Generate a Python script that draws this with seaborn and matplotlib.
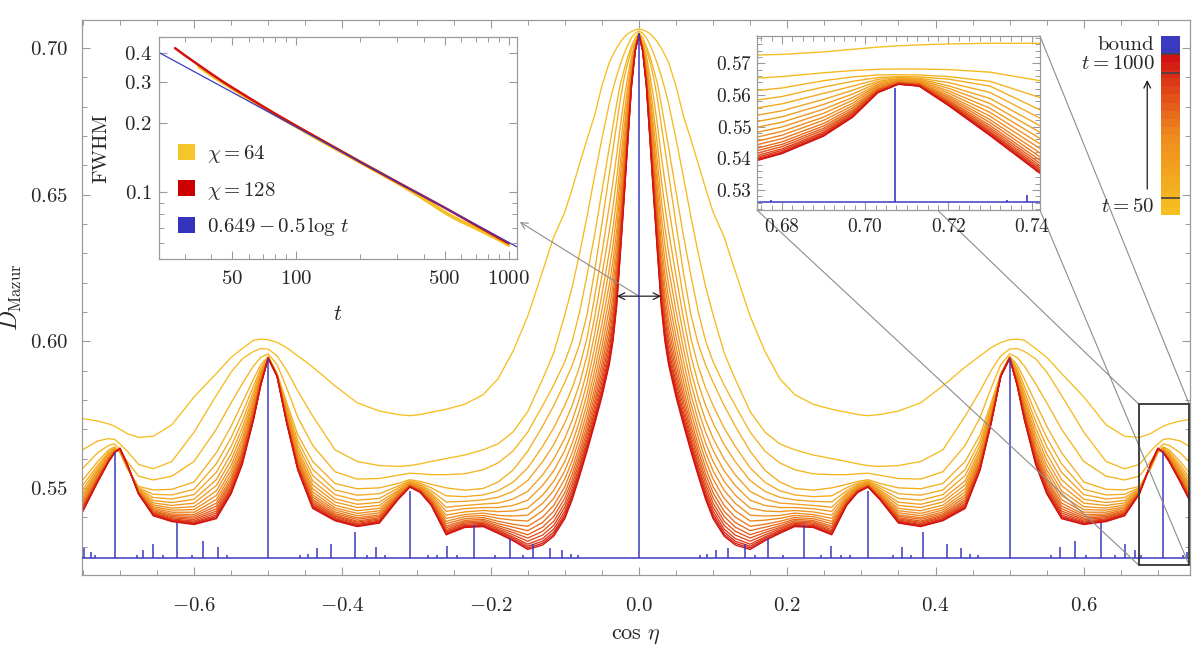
import numpy as np
import pandas as pd
import seaborn as sns
import matplotlib.pyplot as plt
import matplotlib.transforms as mtransforms
from matplotlib.colors import LinearSegmentedColormap, to_hex
from matplotlib.patches import ConnectionPatch, Rectangle, Patch
from matplotlib.ticker import MultipleLocator, FixedLocator, NullFormatter, FuncFormatter

# ---------------------------------------------------------------------------
# D_Mazur(cos eta) for t = 50 ... 1000 (units of 1e-4).
# The curves are symmetric in cos eta, only cos eta >= 0 is stored.
t_values = [50, 100, 150, 200, 250, 300, 350, 400, 450, 500,
            550, 600, 650, 700, 750, 800, 850, 900, 950, 1000]

x_half = [0.0, 0.005, 0.01, 0.015, 0.02, 0.025, 0.03, 0.035, 0.04, 0.05,
          0.06, 0.07, 0.08, 0.09, 0.10, 0.115, 0.13, 0.15, 0.17, 0.19,
          0.21, 0.235, 0.26, 0.28, 0.295, 0.309, 0.325, 0.35, 0.38, 0.41,
          0.44, 0.46, 0.475, 0.488, 0.50, 0.51, 0.52, 0.535, 0.55, 0.57,
          0.60, 0.63, 0.655, 0.675, 0.69, 0.70, 0.707, 0.715, 0.73, 0.75]

D_t50 = [7064, 7062, 7056, 7048, 7036, 7020, 7000, 6976, 6950, 6870,
         6768, 6688, 6605, 6520, 6440, 6355, 6238, 6085, 5965, 5872,
         5818, 5785, 5768, 5758, 5750, 5746, 5750, 5762, 5790, 5848,
         5912, 5950, 5978, 5996, 6005, 6007, 6003, 5975, 5945, 5890,
         5810, 5715, 5676, 5672, 5685, 5700, 5710, 5718, 5728, 5736]
D_t100 = [7058, 7050, 7035, 7010, 6980, 6945, 6905, 6860, 6810, 6690,
          6560, 6425, 6300, 6185, 6090, 5960, 5870, 5760, 5690, 5650,
          5630, 5612, 5600, 5590, 5582, 5576, 5573, 5576, 5590, 5630,
          5745, 5830, 5900, 5950, 5973, 5975, 5965, 5940, 5895, 5815,
          5690, 5590, 5565, 5580, 5625, 5650, 5665, 5668, 5660, 5630]
D_t150 = [7052, 7035, 7005, 6970, 6925, 6878, 6810, 6735, 6660, 6510,
          6360, 6225, 6100, 6000, 5930, 5850, 5780, 5690, 5625, 5585,
          5562, 5548, 5545, 5545, 5548, 5550, 5543, 5532, 5530, 5555,
          5645, 5740, 5840, 5920, 5957, 5945, 5915, 5855, 5790, 5700,
          5590, 5540, 5527, 5540, 5590, 5630, 5650, 5645, 5620, 5567]
D_t200 = [7050, 7022, 6995, 6950, 6897, 6825, 6740, 6655, 6570, 6400,
          6235, 6090, 5990, 5918, 5860, 5780, 5710, 5625, 5560, 5520,
          5498, 5492, 5500, 5512, 5522, 5528, 5515, 5500, 5497, 5515,
          5590, 5680, 5790, 5890, 5948, 5920, 5870, 5790, 5710, 5620,
          5520, 5495, 5493, 5505, 5565, 5620, 5640, 5630, 5590, 5527]
D_t250 = [7049, 7017, 6974, 6904, 6827, 6736, 6635, 6544, 6460, 6300,
          6147, 6011, 5914, 5840, 5781, 5704, 5641, 5568, 5519, 5490,
          5476, 5470, 5473, 5500, 5516, 5524, 5506, 5480, 5475, 5493,
          5563, 5660, 5778, 5888, 5947, 5908, 5846, 5754, 5671, 5582,
          5495, 5476, 5478, 5501, 5568, 5622, 5637, 5623, 5578, 5509]
D_t300 = [7048, 7012, 6958, 6869, 6773, 6668, 6554, 6459, 6375, 6223,
          6079, 5951, 5855, 5781, 5721, 5647, 5589, 5525, 5488, 5468,
          5459, 5454, 5452, 5490, 5511, 5521, 5499, 5464, 5458, 5477,
          5542, 5644, 5769, 5887, 5946, 5899, 5828, 5727, 5641, 5553,
          5477, 5462, 5467, 5497, 5570, 5624, 5634, 5618, 5569, 5495]
D_t350 = [7048, 7009, 6944, 6839, 6728, 6610, 6486, 6386, 6304, 6158,
          6022, 5899, 5806, 5730, 5669, 5598, 5544, 5488, 5462, 5448,
          5445, 5440, 5434, 5482, 5507, 5518, 5492, 5451, 5444, 5463,
          5524, 5631, 5761, 5886, 5946, 5891, 5813, 5704, 5616, 5528,
          5461, 5450, 5457, 5495, 5571, 5626, 5632, 5614, 5561, 5483]
D_t400 = [7047, 7006, 6933, 6815, 6691, 6563, 6430, 6328, 6245, 6105,
          5975, 5858, 5765, 5689, 5628, 5558, 5508, 5458, 5440, 5433,
          5433, 5429, 5420, 5476, 5504, 5516, 5488, 5440, 5433, 5452,
          5510, 5620, 5755, 5885, 5945, 5885, 5800, 5685, 5595, 5508,
          5448, 5440, 5449, 5492, 5572, 5627, 5630, 5610, 5555, 5474]
D_t450 = [7047, 7003, 6923, 6793, 6658, 6521, 6380, 6275, 6193, 6058,
          5933, 5820, 5729, 5652, 5590, 5522, 5475, 5431, 5421, 5419,
          5423, 5418, 5407, 5470, 5501, 5514, 5483, 5430, 5422, 5441,
          5497, 5610, 5749, 5884, 5945, 5879, 5789, 5668, 5577, 5490,
          5436, 5431, 5442, 5490, 5574, 5629, 5628, 5607, 5549, 5465]
D_t500 = [7047, 7001, 6914, 6775, 6629, 6484, 6337, 6229, 6148, 6017,
          5897, 5788, 5698, 5620, 5558, 5491, 5447, 5407, 5404, 5406,
          5414, 5409, 5396, 5465, 5498, 5512, 5479, 5422, 5413, 5432,
          5486, 5602, 5745, 5884, 5944, 5875, 5779, 5654, 5561, 5474,
          5426, 5424, 5436, 5489, 5575, 5630, 5627, 5604, 5545, 5457]
D_t550 = [7046, 6999, 6906, 6758, 6605, 6452, 6300, 6190, 6109, 5981,
          5866, 5760, 5671, 5593, 5530, 5464, 5422, 5387, 5390, 5396,
          5406, 5402, 5386, 5461, 5496, 5510, 5476, 5415, 5405, 5425,
          5476, 5595, 5740, 5883, 5944, 5870, 5771, 5641, 5547, 5460,
          5417, 5417, 5431, 5487, 5576, 5631, 5626, 5602, 5540, 5451]
D_t600 = [7046, 6998, 6899, 6744, 6582, 6423, 6266, 6154, 6073, 5949,
          5837, 5734, 5646, 5568, 5504, 5440, 5400, 5369, 5376, 5386,
          5399, 5395, 5378, 5457, 5494, 5509, 5473, 5408, 5398, 5418,
          5468, 5588, 5736, 5882, 5943, 5866, 5763, 5629, 5534, 5448,
          5409, 5411, 5426, 5486, 5576, 5631, 5625, 5599, 5536, 5445]
D_t650 = [7046, 6996, 6894, 6731, 6563, 6400, 6238, 6124, 6044, 5922,
          5814, 5713, 5626, 5547, 5483, 5420, 5382, 5354, 5366, 5378,
          5393, 5389, 5370, 5454, 5492, 5508, 5470, 5403, 5393, 5412,
          5460, 5583, 5733, 5882, 5943, 5863, 5757, 5620, 5524, 5438,
          5403, 5406, 5422, 5485, 5577, 5632, 5624, 5598, 5533, 5440]
D_t700 = [7046, 6995, 6889, 6721, 6547, 6379, 6213, 6098, 6018, 5899,
          5793, 5695, 5608, 5529, 5465, 5402, 5366, 5340, 5356, 5371,
          5388, 5384, 5364, 5451, 5491, 5507, 5468, 5398, 5387, 5407,
          5454, 5578, 5730, 5882, 5943, 5860, 5751, 5612, 5515, 5429,
          5397, 5402, 5418, 5484, 5578, 5633, 5623, 5596, 5530, 5436]
D_t750 = [7046, 6994, 6884, 6711, 6532, 6360, 6191, 6075, 5995, 5878,
          5775, 5678, 5592, 5513, 5448, 5386, 5352, 5329, 5348, 5365,
          5383, 5380, 5358, 5448, 5489, 5506, 5466, 5394, 5383, 5403,
          5448, 5574, 5728, 5881, 5943, 5858, 5746, 5604, 5506, 5421,
          5392, 5398, 5415, 5483, 5578, 5633, 5622, 5595, 5528, 5432]
D_t800 = [7045, 6993, 6880, 6702, 6519, 6344, 6171, 6054, 5974, 5859,
          5758, 5664, 5577, 5498, 5434, 5372, 5339, 5318, 5340, 5360,
          5379, 5376, 5353, 5446, 5488, 5505, 5465, 5390, 5379, 5399,
          5443, 5570, 5726, 5881, 5942, 5856, 5742, 5597, 5499, 5414,
          5387, 5394, 5412, 5482, 5579, 5634, 5622, 5593, 5526, 5429]
D_t850 = [7045, 6992, 6877, 6695, 6508, 6329, 6154, 6036, 5956, 5842,
          5744, 5651, 5565, 5485, 5421, 5359, 5327, 5308, 5333, 5355,
          5375, 5372, 5349, 5444, 5487, 5504, 5463, 5387, 5375, 5395,
          5439, 5567, 5724, 5881, 5942, 5854, 5738, 5592, 5493, 5407,
          5383, 5391, 5410, 5481, 5579, 5634, 5621, 5592, 5524, 5426]
D_t900 = [7045, 6991, 6874, 6689, 6498, 6317, 6140, 6021, 5941, 5829,
          5732, 5640, 5554, 5475, 5410, 5349, 5318, 5301, 5328, 5351,
          5372, 5369, 5345, 5442, 5486, 5504, 5462, 5384, 5372, 5392,
          5435, 5564, 5722, 5880, 5942, 5852, 5734, 5587, 5487, 5402,
          5380, 5389, 5408, 5481, 5580, 5635, 5621, 5591, 5522, 5423]
D_t950 = [7045, 6990, 6872, 6684, 6491, 6307, 6129, 6009, 5929, 5818,
          5722, 5632, 5546, 5466, 5402, 5341, 5311, 5295, 5323, 5347,
          5370, 5367, 5342, 5441, 5485, 5503, 5461, 5382, 5370, 5390,
          5432, 5562, 5721, 5880, 5942, 5851, 5732, 5583, 5483, 5398,
          5377, 5387, 5406, 5480, 5580, 5635, 5620, 5591, 5521, 5422]
D_t1000 = [7045, 6990, 6870, 6680, 6485, 6300, 6120, 6000, 5920, 5810,
           5715, 5625, 5540, 5460, 5395, 5335, 5305, 5290, 5320, 5345,
           5368, 5365, 5340, 5440, 5485, 5503, 5460, 5380, 5368, 5388,
           5430, 5560, 5720, 5880, 5942, 5850, 5730, 5580, 5480, 5395,
           5375, 5385, 5405, 5480, 5580, 5635, 5620, 5590, 5520, 5420]

main_curves = [D_t50, D_t100, D_t150, D_t200, D_t250, D_t300, D_t350,
               D_t400, D_t450, D_t500, D_t550, D_t600, D_t650, D_t700,
               D_t750, D_t800, D_t850, D_t900, D_t950, D_t1000]

# zoomed inset around cos eta = 1/sqrt(2) (units of 1e-4)
x_zoom = [0.674, 0.680, 0.690, 0.697, 0.703, 0.708, 0.713, 0.720, 0.730, 0.742]
Z_t50 = [5726, 5728, 5736, 5744, 5751, 5755, 5758, 5761, 5763, 5763]
Z_t100 = [5653, 5658, 5670, 5677, 5681, 5682, 5682, 5680, 5672, 5645]
Z_t150 = [5614, 5622, 5645, 5657, 5663, 5664, 5663, 5658, 5643, 5592]
Z_t200 = [5584, 5595, 5625, 5643, 5655, 5658, 5657, 5650, 5628, 5553]
Z_t250 = [5559, 5572, 5605, 5628, 5649, 5655, 5653, 5639, 5608, 5527]
Z_t300 = [5536, 5550, 5586, 5615, 5643, 5652, 5650, 5629, 5589, 5503]
Z_t350 = [5516, 5531, 5570, 5603, 5638, 5650, 5647, 5621, 5573, 5482]
Z_t400 = [5498, 5514, 5555, 5592, 5633, 5647, 5644, 5613, 5558, 5463]
Z_t450 = [5482, 5499, 5542, 5583, 5629, 5645, 5642, 5606, 5545, 5446]
Z_t500 = [5467, 5485, 5530, 5574, 5626, 5643, 5639, 5599, 5533, 5431]
Z_t550 = [5454, 5473, 5520, 5566, 5622, 5642, 5637, 5594, 5522, 5417]
Z_t600 = [5443, 5462, 5510, 5559, 5619, 5640, 5636, 5589, 5513, 5405]
Z_t650 = [5432, 5452, 5502, 5553, 5617, 5639, 5634, 5584, 5504, 5394]
Z_t700 = [5424, 5444, 5495, 5548, 5615, 5638, 5633, 5580, 5497, 5385]
Z_t750 = [5416, 5437, 5489, 5544, 5613, 5637, 5632, 5577, 5491, 5377]
Z_t800 = [5409, 5430, 5483, 5540, 5611, 5636, 5631, 5574, 5485, 5370]
Z_t850 = [5403, 5425, 5479, 5536, 5610, 5635, 5630, 5572, 5481, 5364]
Z_t900 = [5399, 5420, 5475, 5533, 5608, 5635, 5629, 5570, 5477, 5359]
Z_t950 = [5395, 5417, 5472, 5531, 5608, 5634, 5628, 5568, 5474, 5355]
Z_t1000 = [5393, 5415, 5470, 5530, 5607, 5634, 5628, 5567, 5472, 5353]
zoom_curves = [Z_t50, Z_t100, Z_t150, Z_t200, Z_t250, Z_t300, Z_t350,
               Z_t400, Z_t450, Z_t500, Z_t550, Z_t600, Z_t650, Z_t700,
               Z_t750, Z_t800, Z_t850, Z_t900, Z_t950, Z_t1000]
zoom_ylim = (0.5237, 0.5786)

# the bound: flat level plus sharp peaks (cos eta >= 0, mirrored)
bound_base = 0.5262
spike_x = [0.0, 0.0823, 0.0921, 0.1042, 0.12, 0.1425, 0.156, 0.174, 0.1942,
           0.2225, 0.2459, 0.2593, 0.2728, 0.2841, 0.309, 0.3425, 0.3547,
           0.3664, 0.3827, 0.4158, 0.4338, 0.446, 0.457, 0.5, 0.556, 0.5682,
           0.5878, 0.6032, 0.6235, 0.6424, 0.655, 0.6693, 0.6774, 0.7071,
           0.734, 0.739, 0.749]
spike_top = [0.7050, 0.5270, 0.5275, 0.5289, 0.5294, 0.5308, 0.5272, 0.5328,
             0.5272, 0.5374, 0.5270, 0.5302, 0.5272, 0.5270, 0.5490, 0.5272,
             0.5297, 0.5270, 0.5351, 0.5309, 0.5294, 0.5275, 0.5270, 0.5940,
             0.5272, 0.5297, 0.5319, 0.5272, 0.5380, 0.5272, 0.5309, 0.5289,
             0.5270, 0.5622, 0.5270, 0.5283, 0.5296]

# FWHM of the central peak
t_chi128 = [27, 30, 35, 40, 45, 50, 60, 70, 80, 100, 125, 150, 200, 250,
            300, 400, 500, 600, 700, 800, 900, 1000]
fwhm_chi128 = [0.420, 0.391, 0.354, 0.325, 0.302, 0.284, 0.256, 0.2345,
               0.218, 0.1937, 0.1726, 0.1571, 0.1353, 0.1209, 0.1103, 0.0957,
               0.0856, 0.0779, 0.0719, 0.0672, 0.0632, 0.0600]
t_chi64 = [35, 40, 45, 50, 60, 70, 80, 100, 125, 150, 200, 250, 300, 350,
           400, 450, 500, 550, 600, 650, 700, 800, 900, 1000]
fwhm_chi64 = [0.3494, 0.3208, 0.2990, 0.2815, 0.2540, 0.2334, 0.2166, 0.1924,
              0.1712, 0.1560, 0.1349, 0.1205, 0.1097, 0.1008, 0.0933, 0.0870,
              0.0817, 0.0777, 0.0746, 0.0721, 0.0698, 0.0658, 0.0622, 0.0590]
t_fit = [22.7, 1094]
fwhm_fit = [0.402, 0.0579]

# ---------------------------------------------------------------------------
sns.set_theme(style='ticks')
plt.rcParams['font.family'] = ['cmr10']
plt.rcParams['mathtext.fontset'] = 'cm'
plt.rcParams['axes.formatter.use_mathtext'] = True

frame_grey = '#9a9a9a'
bound_blue = '#3a3ac0'
heat = LinearSegmentedColormap.from_list('heat', ['#f5bf20', '#ef8a1f', '#d31313'])
colors = [to_hex(heat(i / (len(t_values) - 1))) for i in range(len(t_values))]
pal = dict(zip(t_values, colors))


def style_frame(a, size=15):
    for s in a.spines.values():
        s.set_color(frame_grey)
        s.set_linewidth(0.9)
    a.tick_params(which='both', direction='in', top=True, right=True,
                  color=frame_grey, labelsize=size)
    a.tick_params(which='major', length=6, width=0.8)
    a.tick_params(which='minor', length=3.5, width=0.7)


xh = np.array(x_half)
frames = []
for t, vals in zip(t_values, main_curves):
    v = np.array(vals) / 1e4
    frames.append(pd.DataFrame({'cos_eta': np.concatenate([-xh[:0:-1], xh]),
                                'D': np.concatenate([v[:0:-1], v]), 't': t}))
df_main = pd.concat(frames, ignore_index=True)

df_zoom = pd.concat([pd.DataFrame({'cos_eta': x_zoom, 'D': np.array(v) / 1e4, 't': t})
                     for t, v in zip(t_values, zoom_curves)], ignore_index=True)

sx = np.array(spike_x)
st = np.array(spike_top)
sx_all = np.concatenate([-sx[:0:-1], sx])
st_all = np.concatenate([st[:0:-1], st])

fig = plt.figure(figsize=(12, 6.5), dpi=100)
fig.patch.set_facecolor('white')

# ---- main panel ----
ax = fig.add_axes([0.0683, 0.1154, 0.9233, 0.8538])
sns.lineplot(data=df_main, x='cos_eta', y='D', hue='t', hue_order=t_values,
             palette=pal, estimator=None, sort=False, legend=False,
             linewidth=0.95, ax=ax)
ax.axhline(bound_base, color=bound_blue, lw=1.1, zorder=4)
ax.vlines(sx_all, bound_base, st_all, color=bound_blue, lw=1.1, zorder=4)

ax.set_xlim(-0.7512, 0.7431)
ax.set_ylim(0.5203, 0.7095)
ax.xaxis.set_major_locator(MultipleLocator(0.2))
ax.xaxis.set_minor_locator(MultipleLocator(0.05))
ax.yaxis.set_major_locator(MultipleLocator(0.05))
ax.yaxis.set_minor_locator(MultipleLocator(0.01))
style_frame(ax)
ax.tick_params(axis='x', which='major', pad=16)
ax.tick_params(axis='y', which='major', pad=10)
ax.set_xlabel(r'$\cos\,\eta$', fontsize=16, labelpad=8)
ax.set_ylabel(r'$D_{\mathrm{Mazur}}$', fontsize=17, labelpad=4)

zx0, zx1 = x_zoom[0], x_zoom[-1]
zy0, zy1 = zoom_ylim
ax.add_patch(Rectangle((zx0, zy0), zx1 - zx0, zy1 - zy0, fill=False,
                       ec='#333333', lw=1.3, zorder=6))

half_max = (D_t1000[0] / 1e4 + bound_base) / 2
half_w = fwhm_chi128[-1] / 2
ax.annotate('', xy=(-half_w, half_max), xytext=(half_w, half_max),
            arrowprops=dict(arrowstyle='<->', color='#222222', lw=0.9,
                            shrinkA=0, shrinkB=0), zorder=7)

# ---- FWHM inset ----
axf = fig.add_axes([0.1325, 0.6015, 0.2983, 0.3415])
sns.lineplot(x=t_chi64, y=fwhm_chi64, color='#f3c126', lw=2.6, ax=axf)
sns.lineplot(x=t_chi128, y=fwhm_chi128, color='#d41010', lw=1.8, ax=axf)
sns.lineplot(x=t_fit, y=fwhm_fit, color=bound_blue, lw=0.9, ax=axf)
axf.set_xscale('log')
axf.set_yscale('log')
axf.set_xlim(22.7, 1094)
axf.set_ylim(0.0513, 0.469)
num_fmt = FuncFormatter(lambda v, p: f'${v:g}$')
axf.xaxis.set_major_locator(FixedLocator([50, 100, 500, 1000]))
axf.xaxis.set_major_formatter(num_fmt)
axf.xaxis.set_minor_locator(FixedLocator([30, 40, 60, 70, 80, 90, 200, 300,
                                          400, 600, 700, 800, 900]))
axf.xaxis.set_minor_formatter(NullFormatter())
axf.yaxis.set_major_locator(FixedLocator([0.1, 0.2, 0.3, 0.4]))
axf.yaxis.set_major_formatter(num_fmt)
axf.yaxis.set_minor_locator(FixedLocator([0.06, 0.07, 0.08, 0.09]))
axf.yaxis.set_minor_formatter(NullFormatter())
style_frame(axf)
axf.tick_params(axis='x', which='major', pad=8)
axf.tick_params(axis='y', which='major', pad=5)
axf.set_xlabel(r'$t$', fontsize=16, labelpad=12)
axf.set_ylabel('FWHM', fontsize=15, labelpad=10)
handles = [Patch(facecolor='#f5c52a', edgecolor='none'),
           Patch(facecolor='#cc0000', edgecolor='none'),
           Patch(facecolor='#3333bb', edgecolor='none')]
axf.legend(handles, [r'$\chi = 64$', r'$\chi = 128$', r'$0.649 - 0.5\,\log\,t$'],
           loc='upper left', bbox_to_anchor=(0.03, 0.56), frameon=False,
           fontsize=15, handlelength=0.8, handleheight=0.8, labelspacing=0.7,
           handletextpad=0.6, borderaxespad=0)

ax.annotate('', xy=(1.008, 0.167), xycoords=axf.transAxes,
            xytext=(0.0, half_max), textcoords='data',
            arrowprops=dict(arrowstyle='->', color='#8c8c8c', lw=0.8,
                            shrinkA=0, shrinkB=0), zorder=5)

# ---- zoom inset ----
axz = fig.add_axes([0.6308, 0.6769, 0.2358, 0.2677])
sns.lineplot(data=df_zoom, x='cos_eta', y='D', hue='t', hue_order=t_values,
             palette=pal, estimator=None, sort=False, legend=False,
             linewidth=1.0, ax=axz)
axz.axhline(bound_base, color=bound_blue, lw=1.1)
axz.vlines(sx_all, bound_base, st_all, color=bound_blue, lw=1.2)
axz.set_xlim(zx0, zx1)
axz.set_ylim(zy0, zy1)
axz.xaxis.set_major_locator(MultipleLocator(0.02))
axz.xaxis.set_minor_locator(MultipleLocator(0.0025))
axz.yaxis.set_major_locator(MultipleLocator(0.01))
axz.yaxis.set_minor_locator(MultipleLocator(0.002))
style_frame(axz, size=14)
axz.tick_params(axis='x', which='major', pad=6)
axz.set_xlabel('')
axz.set_ylabel('')

for cx, cy in [(zx0, zy0), (zx0, zy1), (zx1, zy0), (zx1, zy1)]:
    con = ConnectionPatch(xyA=(cx, cy), coordsA=axz.transData,
                          xyB=(cx, cy), coordsB=ax.transData,
                          color='#8c8c8c', lw=0.8, zorder=5)
    ax.add_artist(con)

# ---- colour key ----
axc = fig.add_axes([0.9675, 0.6692, 0.0155, 0.2754])
cb_lo, cb_hi, cb_top = -76, 1138, 1276
edges = np.linspace(cb_lo, cb_hi, len(t_values) + 1)
for i, c in enumerate(colors):
    axc.axhspan(edges[i], edges[i + 1], color=c, lw=0)
axc.axhspan(cb_hi, cb_top, color=bound_blue, lw=0)
for yv in (t_values[0], t_values[-1], cb_hi):
    axc.axhline(yv, color='#444444', lw=1.2)
axc.set_xlim(0, 1)
axc.set_ylim(cb_lo, cb_top)
axc.axis('off')
trans = mtransforms.blended_transform_factory(axc.transAxes, axc.transData)
axc.text(-0.35, (cb_hi + cb_top) / 2, 'bound', transform=trans, ha='right',
         va='center', fontsize=15)
axc.text(-0.35, t_values[-1], r'$t = 1000$', transform=trans, ha='right',
         va='bottom', fontsize=15)
axc.text(-0.35, t_values[0], r'$t = 50$', transform=trans, ha='right',
         va='top', fontsize=15)
axc.annotate('', xy=(-0.74, 944), xytext=(-0.74, 120), xycoords=trans,
             textcoords=trans, annotation_clip=False,
             arrowprops=dict(arrowstyle='->', lw=0.9, color='k',
                             shrinkA=0, shrinkB=0))

fig.savefig('out.png', dpi=100)
